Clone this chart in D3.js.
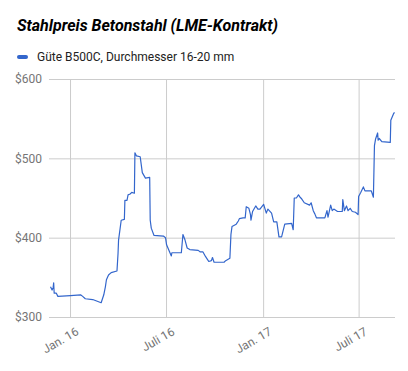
<!DOCTYPE html>
<html>
<head>
<meta charset="utf-8">
<script src="https://cdn.jsdelivr.net/npm/d3@7"></script>
<style>
  body { margin: 0; background: #fff; }
  svg { font-family: Roboto, Arial, sans-serif; }
</style>
</head>
<body>
<div id="chart"></div>
<script>
// Stahlpreis Betonstahl, values
var dates = ["2015-11-25","2015-11-28","2015-11-30","2015-12-01","2015-12-02","2015-12-06","2015-12-09",
  "2016-01-02","2016-01-21","2016-01-25","2016-01-30","2016-02-13","2016-02-29","2016-03-05","2016-03-08",
  "2016-03-10","2016-03-14","2016-03-19","2016-03-30","2016-04-01","2016-04-02","2016-04-07","2016-04-13",
  "2016-04-14","2016-04-18","2016-04-20","2016-04-24","2016-04-27","2016-05-02","2016-05-03","2016-05-06",
  "2016-05-13","2016-05-17","2016-05-23","2016-05-31","2016-06-01","2016-06-03","2016-06-08","2016-06-26",
  "2016-06-30","2016-07-02","2016-07-09","2016-07-11","2016-07-12","2016-07-30","2016-08-02","2016-08-06",
  "2016-08-10","2016-08-15","2016-08-31","2016-09-04","2016-09-09","2016-09-14","2016-09-18","2016-09-20",
  "2016-09-25","2016-09-27","2016-09-30","2016-10-19","2016-10-22","2016-10-30","2016-11-01","2016-11-03",
  "2016-11-11","2016-11-15","2016-11-17","2016-11-24","2016-11-28","2016-11-30","2016-12-05","2016-12-08",
  "2016-12-09","2016-12-12","2016-12-18","2016-12-22","2016-12-26","2017-01-02","2017-01-07","2017-01-10",
  "2017-01-17","2017-01-21","2017-01-27","2017-01-31","2017-02-05","2017-02-11","2017-02-24","2017-02-27",
  "2017-03-01","2017-03-05","2017-03-09","2017-03-12","2017-03-15","2017-03-20","2017-03-30","2017-04-02",
  "2017-04-06","2017-04-09","2017-04-12","2017-04-28","2017-05-02","2017-05-04","2017-05-09","2017-05-12",
  "2017-05-15","2017-05-22","2017-05-31","2017-06-01","2017-06-04","2017-06-08","2017-06-11","2017-06-15",
  "2017-06-19","2017-06-25","2017-06-30","2017-07-01","2017-07-05","2017-07-10","2017-07-13","2017-07-25",
  "2017-07-27","2017-07-29","2017-07-31","2017-08-02","2017-08-06","2017-08-07","2017-08-09","2017-08-14",
  "2017-08-30","2017-08-31","2017-09-05","2017-09-07"];

var prices = [338,334,337,343,330,330,326,
  327,328,326,323,322,318,328,338,
  347,353,356,358,380,397,422,423,
  447,447,454,455,457,456,507,503,
  502,482,475,476,422,412,403,402,
  400,391,380,377,381,381,404,397,
  387,385,384,382,382,376,372,370,
  371,375,369,369,371,374,404,414,
  417,421,424,425,425,439,437,429,
  422,433,440,436,436,442,431,436,
  431,420,420,401,401,417,418,410,
  450,450,454,451,449,444,441,444,
  434,430,425,425,434,426,441,434,
  436,433,433,448,434,440,434,437,
  433,432,429,452,457,464,459,459,
  455,451,516,524,532,523,525,521,
  520,548,556,558];

var seriesName = "Güte B500C, Durchmesser 16-20 mm";
var title = "Stahlpreis Betonstahl (LME-Kontrakt)";
var yTicks = [300, 400, 500, 600];
var xTickDates = ["2016-01-01", "2016-07-01", "2017-01-01", "2017-07-01"];
var xTickLabels = ["Jan. 16", "Juli 16", "Jan. 17", "Juli 17"];

var width = 408, height = 371;
var plotLeft = 49, plotRight = 395, plotTop = 79, plotBottom = 317;

var parse = d3.timeParse("%Y-%m-%d");
var data = dates.map(function(d, i) { return { date: parse(d), value: prices[i] }; });

var svg = d3.select("#chart").append("svg")
    .attr("width", width).attr("height", height);

var x = d3.scaleTime()
    .domain(d3.extent(data, function(d) { return d.date; }))
    .range([50.5, 394.5]);
var y = d3.scaleLinear().domain([300, 600]).range([plotBottom, plotTop]);

// title
svg.append("text")
    .attr("x", 17).attr("y", 31)
    .style("font-size", "16px").style("font-weight", "bold").style("font-style", "italic")
    .attr("fill", "#000")
    .text(title);

// legend
svg.append("rect")
    .attr("x", 17).attr("y", 55).attr("width", 11).attr("height", 4).attr("rx", 2)
    .attr("fill", "#3366cc");
svg.append("text")
    .attr("x", 37).attr("y", 61)
    .style("font-size", "12px").attr("fill", "#222")
    .text(seriesName);

// y axis + horizontal grid
var yAxis = svg.append("g")
    .attr("transform", "translate(" + plotLeft + ",0)")
    .call(d3.axisLeft(y).tickValues(yTicks)
        .tickFormat(function(d) { return "$" + d; })
        .tickSize(-(plotRight - plotLeft)).tickPadding(7));
yAxis.select(".domain").remove();
yAxis.selectAll("line").attr("stroke", "#ccc");
yAxis.selectAll("text").attr("fill", "#757575").style("font-size", "12px")
    .style("font-family", "Roboto, Arial, sans-serif");

// x axis + vertical grid
var xAxis = svg.append("g")
    .attr("transform", "translate(0," + plotBottom + ")")
    .call(d3.axisBottom(x).tickValues(xTickDates.map(parse))
        .tickFormat(function(d, i) { return xTickLabels[i]; })
        .tickSize(-(plotBottom - plotTop)).tickPadding(0));
xAxis.select(".domain").remove();
xAxis.selectAll("line").attr("stroke", "#ccc");
xAxis.selectAll("text")
    .attr("fill", "#757575").style("font-size", "12px")
    .style("font-family", "Roboto, Arial, sans-serif")
    .attr("text-anchor", "end")
    .attr("dy", null).attr("y", null)
    .attr("transform", "translate(9,17) rotate(-30)");

// line
var line = d3.line()
    .x(function(d) { return x(d.date); })
    .y(function(d) { return y(d.value); });

svg.append("path")
    .datum(data)
    .attr("fill", "none")
    .attr("stroke", "#3366cc")
    .attr("stroke-width", 1.2)
    .attr("stroke-linejoin", "round")
    .attr("d", line);
</script>
</body>
</html>
